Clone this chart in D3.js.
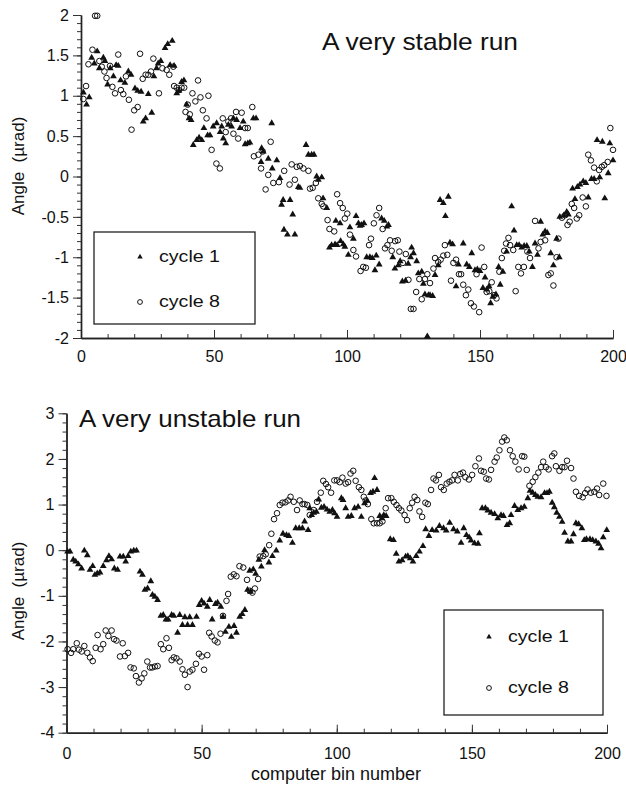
<html>
<head>
<meta charset="utf-8">
<title>Angle vs computer bin number</title>
<script src="https://cdn.jsdelivr.net/npm/d3@7"></script>
<style>
    body { margin: 0; background: #fff; }
    text { font-family: "Liberation Sans", Arial, sans-serif; fill: #111; }
</style>
</head>
<body>
<div id="main-svg"></div>
<script>
// [bin, angle in urad]
var stableCycle1 = [[0.9,1.04],[2.1,0.89],[3.1,0.98],[4,1.47],[5,1.40],[6.1,1.55],[6.9,1.34],[8.4,1.47],[9,1.43],[10,1.14],[11,1.34],[12.2,1.24],[13.2,1.38],[14,1.37],[14.9,1.19],[16.5,1.16],[17.8,1.30],[18.8,1.26],[20.3,1.09],[21.3,1.06],[22.6,1.05],[23.4,0.68],[24.3,0.72],[25.3,1.02],[26.6,0.79],[27.4,1.24],[28.4,1.34],[29,1.40],[30,1.43],[31.6,1.59],[32.6,1.64],[33.5,1.38],[34.3,1.68],[35,1.37],[36,1.03],[36.8,1.06],[37.8,1.17],[38.7,1.19],[39.7,0.89],[40.6,0.72],[41.4,0.70],[42.2,0.39],[43.5,0.45],[44.4,0.48],[45.4,0.45],[46.2,0.60],[47.6,0.51],[48.5,0.51],[49.7,0.62],[51,0.66],[52.3,0.55],[52.9,0.62],[53.5,0.47],[54.4,0.41],[55.4,0.64],[56.6,0.62],[57.3,0.72],[58.5,0.70],[59.8,0.60],[61,0.68],[61.7,0.40],[62.7,0.41],[63.5,0.42],[64.8,0.72],[65.8,0.72],[67.7,0.18],[67.9,0.35],[68.5,0.31],[70.4,0.22],[71.7,0.66],[71.9,0.10],[73.6,0.20],[74.8,-0.02],[75.4,-0.35],[76,-0.29],[76.3,-0.66],[77.6,-0.72],[78.6,-0.29],[79.6,-0.47],[80.4,-0.72],[81.7,-0.13],[82.3,-0.14],[84.6,0.39],[85.5,0.27],[86.7,0.27],[87.6,0.27],[88.6,0.0],[89.2,-0.04],[90.5,-0.01],[91,-0.27],[92.4,-0.39],[93.4,-0.88],[94.2,-0.85],[95.5,-0.84],[95.8,-0.55],[96.3,-0.85],[97.4,-0.58],[97.6,-0.80],[98.6,-0.84],[99.2,-0.87],[100.5,-0.97],[101.1,-0.63],[102.4,-0.77],[103.4,-0.49],[104.3,-0.58],[104.9,-0.61],[105.5,-0.60],[106.4,-0.58],[107.4,-1.0],[108.6,-1.0],[109.5,-1.01],[110.5,-1.16],[111,-0.98],[112.1,-1.09],[113,-0.52],[114,-0.55],[115,-0.62],[115.6,-0.60],[117.2,-1.0],[118,-1.14],[119.3,-1.1],[120,-1.05],[120.8,-1.30],[122,-1.29],[123,-1.08],[123.9,-1.0],[124.3,-0.88],[125,-0.95],[126.2,-1.05],[126.8,-1.2],[128.1,-1.18],[128.7,-1.33],[129.3,-1.46],[130.2,-1.98],[130.6,-1.47],[131.2,-1.47],[132.2,-1.48],[133.1,-1.22],[134.3,-1.1],[135,-0.29],[136.2,-0.33],[137,-0.49],[138.1,-0.25],[138.7,-0.82],[139.7,-0.84],[141,-1.36],[141.9,-1.09],[143.7,-0.83],[145,-1.09],[146,-1.12],[146.9,-0.95],[148.1,-1.16],[149,-1.15],[150,-1.17],[151.1,-1.38],[151.9,-1.25],[152.5,-1.40],[153.4,-1.36],[154,-1.57],[154.8,-1.49],[156,-1.46],[157,-1.12],[157.6,-1.34],[158.6,-1.18],[160,-0.93],[161.9,-0.37],[162.8,-0.67],[163.8,-0.85],[164.7,-0.85],[165.7,-0.88],[166.6,-0.86],[167.6,-0.86],[168.5,-0.93],[169.7,-1.12],[170.7,-0.83],[171.6,-0.97],[172.8,-0.56],[173.6,-0.72],[174.5,-0.68],[175.3,-0.70],[176.6,-0.95],[177.6,-1.1],[178.8,-0.77],[179.8,-1.0],[180,-0.50],[181.6,-0.48],[182.6,-0.44],[183.2,-0.47],[184.8,-0.15],[185.7,-0.28],[186.6,-0.13],[187.6,-0.10],[188.8,-0.06],[189.8,-0.08],[190.7,-0.26],[191.9,-0.03],[192.9,-0.03],[194,0.45],[195,-0.01],[196,0.43],[196.9,-0.27],[198.2,0.04],[198.8,0.41],[200,0.20]];

var stableCycle8 = [[0.9,0.96],[1.9,1.12],[2.8,1.39],[4.3,1.57],[5.3,1.99],[6.1,1.99],[6.9,1.43],[7.8,1.36],[8.8,1.30],[9.6,1.22],[10.9,1.37],[11.8,1.11],[12.8,1.03],[14,1.51],[15,1.07],[15.9,1.02],[16.9,1.24],[18,0.95],[19,0.58],[20,0.82],[21.3,0.86],[22.2,1.52],[23.2,1.21],[24.3,1.26],[25.3,1.26],[26.3,1.30],[27.2,1.46],[29.3,1.03],[30.6,1.34],[32.2,1.32],[33.2,1.26],[34.7,1.36],[35,1.12],[36,1.10],[36.8,1.07],[37.8,1.10],[38.8,1.10],[39.3,0.80],[40.1,0.89],[40.9,0.77],[41.9,1.03],[43,0.93],[44,1.19],[44.9,0.98],[45.8,0.82],[47.2,0.72],[47.9,1.0],[49.1,0.33],[50.9,0.16],[52.2,0.10],[53.3,0.72],[54.4,0.55],[55.4,0.68],[56.4,0.72],[57.3,0.53],[58.3,0.80],[59.1,0.47],[60.4,0.79],[61.7,0.60],[62.7,0.60],[64.4,0.86],[65,0.25],[66.7,0.27],[67.7,0.10],[68.3,0.31],[69.4,-0.16],[70.4,0.02],[71.3,0.43],[72.3,-0.08],[74.4,-0.07],[76.4,0.07],[78.4,-0.10],[79.2,0.15],[80.4,-0.04],[81.1,0.12],[82.3,0.13],[83.6,0.10],[85.5,0.07],[86.1,-0.15],[87.1,-0.14],[88.3,-0.08],[89.2,-0.27],[90.5,-0.34],[91.1,-0.37],[92.7,-0.54],[93.4,-0.65],[95.2,-0.68],[96.3,-0.22],[97.4,-0.33],[98.4,-0.39],[99.2,-0.52],[100.1,-0.46],[101.1,-0.72],[102.4,-0.91],[103.4,-0.99],[105.1,-1.17],[106.1,-1.12],[107.1,-1.13],[108.3,-0.85],[109,-0.77],[110.1,-0.58],[111.1,-0.48],[112.1,-0.39],[113.4,-0.65],[114.3,-0.89],[115.2,-0.85],[116.2,-0.79],[116.8,-0.92],[118.1,-0.80],[119.1,-0.79],[119.7,-0.93],[121,-1.07],[122.1,-0.96],[123.1,-1.28],[124,-1.64],[125,-1.64],[126,-1.43],[127.2,-1.27],[128.1,-1.52],[129.3,-1.27],[130.2,-1.21],[131.2,-1.32],[132.5,-1.14],[133.1,-1.01],[134.3,-1.06],[135.2,-1.03],[136.2,-0.98],[136.8,-0.85],[137.7,-0.97],[139.1,-1.29],[140,-1.07],[141,-1.03],[142.1,-1.21],[142.9,-1.21],[143.7,-1.34],[144.7,-1.47],[145.6,-1.40],[146.6,-1.57],[147.7,-1.61],[148.7,-1.21],[149.7,-1.68],[150.6,-0.88],[151.6,-1.12],[152.5,-1.43],[153.5,-1.42],[154.4,-1.31],[155.3,-1.47],[156.2,-1.51],[157.3,-1.18],[158.2,-1.01],[159.1,-0.92],[159.8,-0.83],[160.7,-0.76],[161.3,-0.85],[162.5,-0.91],[163.4,-1.42],[164.4,-1.12],[165.4,-1.20],[166.5,-1.12],[167.8,-0.93],[168.8,-1.01],[170.7,-0.55],[172,-0.89],[172.8,-0.81],[174.5,-0.79],[175.7,-1.22],[176.6,-1.20],[177.6,-1.35],[178.8,-1.0],[179.5,-0.77],[180.8,-0.51],[182,-0.48],[182.9,-0.60],[183.7,-0.56],[184.5,-0.34],[185.4,-0.39],[186.4,-0.52],[187.3,-0.48],[188.6,-0.26],[189.8,-0.37],[190.7,0.27],[191.7,0.20],[192.9,0.11],[193.9,-0.06],[194.8,0.08],[195.8,0.12],[196.7,0.14],[198,0.18],[199,0.60],[200,0.33]];

var unstableCycle1 = [[0.4,-0.03],[1.3,-0.03],[2.5,-0.21],[3.4,-0.25],[4.4,-0.31],[5.6,-0.40],[6.6,-0.01],[7.7,-0.11],[8.7,-0.43],[9.7,-0.35],[10.5,-0.54],[11.4,-0.51],[12.4,-0.49],[13.6,-0.35],[14.8,-0.22],[15.7,-0.13],[16.7,-0.20],[17.7,-0.40],[18.9,-0.43],[19.8,-0.14],[21,-0.14],[21.9,-0.25],[22.8,-0.13],[23.8,-0.03],[24.9,-0.01],[25.9,-0.01],[27.2,-0.47],[28.1,-0.54],[29,-0.87],[30,-0.84],[31.2,-0.68],[31.8,-0.98],[32.7,-1.02],[33.7,-1.09],[34.9,-1.44],[35.8,-1.42],[36.8,-1.52],[37.6,-1.52],[38.9,-1.42],[39.7,-1.44],[41.1,-1.81],[41.9,-1.42],[42.9,-1.64],[43.8,-1.47],[44.8,-1.64],[45.6,-1.47],[46.6,-1.64],[48.1,-1.46],[49.1,-1.20],[50,-1.11],[50.9,-1.17],[52.1,-1.24],[53,-1.09],[53.9,-1.52],[55.1,-1.18],[55.9,-1.15],[57.1,-1.24],[57.9,-1.46],[58.8,-1.79],[60.1,-1.68],[61,-1.90],[62,-1.66],[62.9,-1.81],[64.1,-1.46],[65,-1.40],[66,-1.31],[67,-0.87],[67.8,-0.45],[68.1,-0.91],[69.1,-0.42],[70,-0.52],[71.2,-0.21],[72.1,-0.36],[73.3,0.0],[74.9,-0.27],[76.2,-0.13],[77.6,-0.01],[78.9,0.21],[80.1,0.36],[81.4,0.33],[82.3,0.31],[83.6,0.16],[84.8,0.48],[86.1,0.48],[87.3,0.48],[88.1,0.63],[89.4,0.44],[90,0.92],[90.7,0.77],[91.5,0.82],[92.5,0.84],[93.3,1.11],[94.3,0.93],[95.3,0.95],[96.4,0.89],[97.4,0.84],[98.4,0.88],[99.2,0.81],[100.1,0.73],[101.7,1.14],[102.3,1.10],[103.3,0.92],[104.2,0.73],[105.4,0.75],[106.6,0.92],[107.9,0.95],[109.1,0.73],[110.3,1.03],[111.3,1.08],[112.5,1.25],[113.4,1.28],[114,1.58],[114.9,1.32],[115.9,0.75],[116.7,0.70],[117.4,0.77],[118.3,0.75],[119.8,0.24],[121,0.22],[122,-0.08],[123,-0.25],[124.2,-0.22],[125.5,-0.14],[126.3,-0.13],[127.2,-0.18],[128.2,-0.25],[129.4,-0.13],[130.6,-0.03],[131.9,0.09],[132.9,0.46],[134.1,0.31],[135.3,0.44],[136.8,0.43],[138,0.53],[139.5,0.48],[140.5,0.43],[141.8,0.60],[143.2,0.46],[144.6,0.41],[146,0.16],[147,0.48],[148,0.33],[149,0.28],[149.7,0.21],[151,0.15],[152.3,0.14],[152.8,0.37],[153.8,0.92],[155,0.92],[155.9,0.87],[157.1,0.82],[158.4,0.79],[159.6,0.70],[160.8,0.77],[161.7,0.75],[163,0.55],[164,0.59],[164.5,0.77],[165.8,0.97],[167,0.88],[168.2,0.92],[169.4,0.95],[170.7,1.14],[171.5,1.30],[172.5,1.26],[173.5,1.21],[174.4,1.17],[175.6,1.16],[176.9,1.25],[177.8,1.25],[178.7,1.28],[179.7,1.04],[180.5,0.94],[181.4,0.82],[182.4,0.73],[183.4,0.62],[184.3,0.38],[185.5,0.19],[186.7,0.19],[187.6,0.35],[188.5,0.59],[189.5,0.57],[190.7,0.48],[191.6,0.22],[192.4,0.24],[193.7,0.24],[194.7,0.22],[195.9,0.19],[196.9,0.14],[197.8,0.04],[198.6,0.28],[199.9,0.44]];

var unstableCycle8 = [[0.4,-2.17],[1.7,-2.25],[2.5,-2.17],[3.8,-2.04],[4.6,-2.18],[5.6,-2.22],[6.6,-2.10],[7.7,-2.25],[8.7,-2.35],[9.7,-2.43],[10.8,-2.14],[11.5,-1.86],[12.6,-2.17],[13.6,-2.06],[14.5,-1.76],[15.5,-1.88],[16.7,-1.76],[17.6,-1.95],[18.5,-1.98],[19.8,-2.33],[20.8,-2.04],[21.6,-2.32],[22.8,-2.25],[23.7,-2.57],[24.9,-2.59],[25.7,-2.76],[26.8,-2.90],[27.8,-2.81],[28.8,-2.70],[29.9,-2.44],[30.9,-2.57],[31.7,-2.57],[32.7,-2.55],[33.7,-2.54],[34.9,-2.06],[35.8,-2.17],[37,-1.93],[37.9,-2.14],[38.9,-2.41],[39.7,-2.35],[40.7,-2.37],[41.9,-2.44],[42.9,-2.61],[43.8,-2.73],[44.8,-3.0],[45.6,-2.66],[46.6,-2.62],[47.9,-2.49],[49,-2.27],[50,-2.33],[50.9,-2.62],[52.1,-2.30],[52.8,-1.81],[53.7,-1.89],[54.9,-1.98],[55.9,-2.02],[57,-1.83],[57.9,-1.44],[59.2,-1.11],[59.8,-0.96],[60.8,-0.58],[61.9,-0.53],[62.9,-0.57],[64,-0.35],[65.4,-0.38],[66.8,-0.65],[67.8,-0.89],[68.8,-0.93],[69.7,-0.84],[70.9,-0.63],[71.5,-0.14],[72.8,-0.13],[73.7,-0.09],[75,0.11],[75.8,0.36],[76.8,0.68],[77.9,0.81],[78.9,0.99],[79.9,1.04],[81,1.05],[82,1.09],[82.9,1.17],[84.1,1.06],[85.3,0.88],[86.3,1.09],[87.3,1.01],[88.1,1.01],[89.1,0.99],[90,0.77],[91.5,0.88],[92.7,1.06],[94.1,1.26],[95,1.52],[96,1.45],[96.8,1.38],[97.9,1.26],[99.1,1.53],[100.1,1.53],[101.1,1.49],[102.1,1.59],[103.3,1.46],[104.2,1.49],[105.1,1.68],[106.1,1.74],[107,1.52],[108.2,1.38],[109.1,1.32],[110,1.17],[110.7,1.09],[111.5,1.01],[112.8,0.68],[113.7,0.59],[114.9,0.59],[115.9,0.59],[116.9,0.63],[118.1,0.92],[119,1.14],[120.2,1.14],[121.1,1.06],[122.1,0.99],[123,0.92],[123.9,0.87],[125.1,0.77],[126,0.66],[127,0.92],[127.9,1.04],[128.8,1.17],[129.8,1.10],[130.6,0.85],[131.6,0.73],[132.8,1.04],[133.7,1.01],[134.9,1.32],[135.8,1.57],[136.7,1.53],[137.8,1.65],[138.6,1.38],[139.6,1.32],[140.7,1.46],[141.7,1.50],[142.7,1.53],[143.6,1.65],[144.8,1.53],[145.7,1.67],[146.7,1.70],[147.6,1.60],[148.9,1.55],[150.1,1.65],[151.3,1.84],[152.6,2.01],[153.4,1.74],[154.4,1.72],[155.3,1.57],[156.3,1.55],[157.1,1.76],[158.4,1.94],[159.2,2.03],[160.2,2.19],[161.2,2.38],[162,2.47],[162.9,2.41],[164.1,2.19],[165.1,2.06],[166.1,1.94],[167.3,1.77],[168.6,2.06],[169.4,2.05],[170.3,1.76],[171.3,1.41],[172.5,1.50],[173.5,1.60],[174.6,1.70],[175.6,1.82],[176.4,1.94],[177.4,1.82],[178.4,1.77],[179.7,2.06],[180.5,2.12],[181.1,1.84],[182.4,1.74],[183.4,1.82],[184.3,1.82],[185.2,1.96],[186.7,1.80],[187.6,1.57],[188.5,1.28],[189.7,1.19],[191,1.16],[191.9,1.25],[192.8,1.33],[194,1.26],[195.3,1.28],[196.3,1.35],[197.1,1.21],[198.6,1.46],[199.8,1.19]];

var xTicks = [0, 50, 100, 150, 200];
var stableYTicks = [-2, -1.5, -1, -0.5, 0, 0.5, 1, 1.5, 2];
var unstableYTicks = [-4, -3, -2, -1, 0, 1, 2, 3];
var seriesNames = ["cycle 1", "cycle 8"];

var width = 626, height = 788;
var svg = d3.select("#main-svg").append("svg")
    .attr("width", width).attr("height", height);
svg.append("rect").attr("width", width).attr("height", height).attr("fill", "#fff");

var tri = d3.symbol().type(d3.symbolTriangle).size(20);

function drawPanel(opt) {
    var x = d3.scaleLinear().domain([0, 200]).range(opt.xRange);
    var y = d3.scaleLinear().domain(opt.yDomain).range(opt.yRange);
    var g = svg.append("g");
    var fmt = function (d) { return String(d); };

    // minor ticks first, then major axes on top
    g.append("g").attr("transform", "translate(0," + opt.yRange[0] + ")")
        .call(d3.axisBottom(x).tickValues(d3.range(0, 201, 10)).tickSize(-4).tickSizeOuter(0).tickFormat(""));
    g.append("g").attr("transform", "translate(" + opt.xRange[0] + ",0)")
        .call(d3.axisLeft(y).tickValues(d3.range(opt.yDomain[0], opt.yDomain[1] + 1e-9, opt.yMinor))
            .tickSize(4).tickSizeOuter(0).tickFormat(""));
    var xa = g.append("g").attr("transform", "translate(0," + opt.yRange[0] + ")")
        .call(d3.axisBottom(x).tickValues(xTicks).tickSize(-8).tickSizeOuter(0).tickPadding(opt.xPad).tickFormat(fmt));
    var ya = g.append("g").attr("transform", "translate(" + opt.xRange[0] + ",0)")
        .call(d3.axisLeft(y).tickValues(opt.yTicks).tickSize(8).tickSizeOuter(0).tickPadding(4).tickFormat(fmt));
    g.selectAll(".domain").attr("stroke", "#222").attr("stroke-width", 1.4);
    g.selectAll(".tick line").attr("stroke", "#333");
    xa.selectAll("text").style("font-size", "16px").attr("fill", "#111");
    ya.selectAll("text").style("font-size", "16px").attr("fill", "#111");

    // y axis title
    g.append("text")
        .attr("transform", "translate(" + 24 + "," + opt.yTitleY + ") rotate(-90)")
        .attr("text-anchor", "middle")
        .style("font-size", "17px")
        .style("white-space", "pre")
        .text("Angle  (\u00b5rad)");

    // panel title
    g.append("text").attr("x", opt.titleX).attr("y", opt.titleY)
        .style("font-size", "24px")
        .attr("textLength", opt.titleW).attr("lengthAdjust", "spacingAndGlyphs")
        .text(opt.title);

    // points
    g.selectAll(".c8").data(opt.c8).enter().append("circle")
        .attr("cx", function (d) { return x(d[0]); })
        .attr("cy", function (d) { return y(d[1]); })
        .attr("r", 2.8)
        .attr("fill", "none").attr("stroke", "#111").attr("stroke-width", 1);
    g.selectAll(".c1").data(opt.c1).enter().append("path")
        .attr("d", tri)
        .attr("transform", function (d) { return "translate(" + x(d[0]) + "," + y(d[1]) + ")"; })
        .attr("fill", "#111");

    // legend
    var lg = g.append("g");
    lg.append("rect").attr("x", opt.legend[0]).attr("y", opt.legend[1])
        .attr("width", opt.legend[2]).attr("height", opt.legend[3])
        .attr("fill", "#fff").attr("stroke", "#222").attr("stroke-width", 1.3);
    var lx = opt.legend[0] + opt.legendMarkX;
    lg.append("path").attr("d", d3.symbol().type(d3.symbolTriangle).size(13))
        .attr("transform", "translate(" + lx + "," + (opt.legend[1] + opt.legendRows[0]) + ")")
        .attr("fill", "#111");
    lg.append("circle").attr("cx", lx).attr("cy", opt.legend[1] + opt.legendRows[1])
        .attr("r", 2.4).attr("fill", "none").attr("stroke", "#111");
    seriesNames.forEach(function (s, i) {
        lg.append("text").attr("x", lx + 19).attr("y", opt.legend[1] + opt.legendRows[i] + 5)
            .style("font-size", "17px")
            .attr("textLength", 61).attr("lengthAdjust", "spacingAndGlyphs")
            .text(s);
    });
}

drawPanel({
    xRange: [81, 613], yDomain: [-2, 2], yRange: [338, 15],
    yTicks: stableYTicks, yMinor: 0.1, xPad: 13,
    yTitleY: 166, title: "A very stable run", titleX: 322, titleY: 50, titleW: 196,
    c1: stableCycle1, c8: stableCycle8,
    legend: [94, 232, 161, 92], legendMarkX: 46, legendRows: [25, 70]
});

drawPanel({
    xRange: [66.5, 607], yDomain: [-4, 3], yRange: [732.7, 413.3],
    yTicks: unstableYTicks, yMinor: 0.2, xPad: 14.5,
    yTitleY: 591, title: "A very unstable run", titleX: 79, titleY: 427, titleW: 222,
    c1: unstableCycle1, c8: unstableCycle8,
    legend: [444, 610, 159, 105], legendMarkX: 45, legendRows: [27, 78]
});

svg.append("text").attr("x", 336).attr("y", 780)
    .attr("text-anchor", "middle").style("font-size", "18px")
    .text("computer bin number");
</script>
</body>
</html>
